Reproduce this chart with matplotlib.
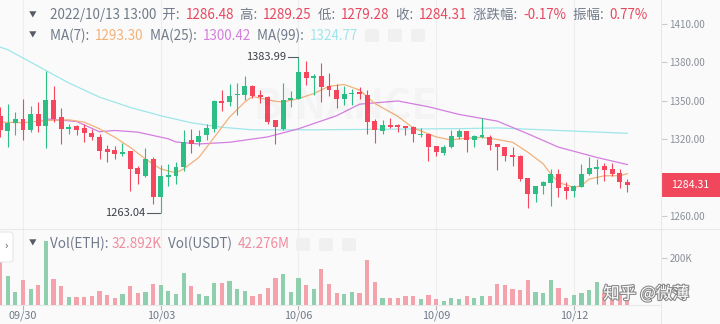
import matplotlib
matplotlib.use("Agg")
import matplotlib.pyplot as plt
import matplotlib.patheffects as pe
from matplotlib.patches import Rectangle, FancyBboxPatch

plt.rcParams['font.family'] = ['Noto Sans CJK SC', 'DejaVu Sans']

# 4h candles, index 2 = 09/30 00:00
candle_idx = list(range(-1, 82))
opens = [1338.0, 1326.5, 1333.0, 1335.6, 1327.0, 1339.5, 1330.4, 1350.5, 1337.4, 1328.3, 1330.1,
         1329.1, 1325.2, 1322.3, 1312.6, 1311.8, 1308.7, 1311.3, 1297.5, 1291.7, 1304.8,
         1275.5, 1290.4, 1291.7, 1298.3, 1319.2, 1317.8, 1323.1, 1328.3, 1350.0, 1349.2,
         1354.9, 1354.4, 1361.7, 1354.4, 1353.1, 1335.3, 1328.3, 1350.5, 1351.8, 1372.7,
         1368.2, 1369.3, 1361.4, 1358.8, 1351.8, 1355.2, 1357.0, 1354.9, 1334.3, 1326.5,
         1330.9, 1331.2, 1330.1, 1329.6, 1323.3, 1324.4, 1315.2, 1309.2, 1314.2, 1322.3,
         1326.5, 1319.2, 1321.8, 1322.3, 1316.5, 1314.4, 1308.2, 1307.4, 1289.9, 1277.4,
         1283.4, 1285.7, 1293.0, 1282.6, 1279.5, 1283.1, 1293.0, 1297.0, 1299.3, 1297.0,
         1293.8, 1286.48]
highs = [1345.0, 1347.9, 1341.3, 1351.8, 1345.8, 1349.2, 1373.4, 1361.4, 1344.5, 1332.2, 1330.9,
         1332.2, 1328.3, 1324.4, 1316.0, 1315.2, 1317.1, 1311.3, 1299.6, 1313.1, 1306.6,
         1300.3, 1300.9, 1302.2, 1327.0, 1328.3, 1327.0, 1332.2, 1350.5, 1358.8, 1363.5,
         1364.0, 1369.3, 1362.7, 1358.3, 1353.6, 1335.3, 1364.3, 1357.5, 1383.99, 1381.3,
         1371.4, 1379.7, 1371.9, 1363.5, 1361.7, 1359.4, 1360.7, 1358.3, 1336.1, 1335.3,
         1336.9, 1332.2, 1330.1, 1330.1, 1329.1, 1324.9, 1315.2, 1316.0, 1327.5, 1328.3,
         1326.5, 1323.1, 1336.9, 1323.1, 1316.5, 1314.4, 1313.9, 1308.2, 1289.9, 1283.9,
         1287.8, 1297.0, 1297.0, 1286.5, 1284.7, 1300.9, 1306.1, 1304.8, 1301.4, 1301.4,
         1297.0, 1289.25]
lows = [1322.0, 1314.4, 1323.6, 1319.7, 1325.7, 1325.7, 1313.4, 1333.5, 1316.5, 1324.4, 1323.1,
        1317.8, 1319.2, 1304.8, 1302.2, 1304.8, 1307.4, 1280.0, 1285.2, 1290.4, 1269.5,
        1263.04, 1283.9, 1285.2, 1295.1, 1309.2, 1315.2, 1319.2, 1325.7, 1341.9, 1346.0,
        1338.7, 1350.5, 1352.6, 1348.4, 1332.2, 1316.5, 1327.0, 1345.3, 1351.8, 1362.2,
        1354.4, 1349.2, 1353.6, 1344.7, 1346.6, 1346.6, 1351.8, 1324.1, 1317.1, 1323.9,
        1328.8, 1325.7, 1323.1, 1317.8, 1321.8, 1303.5, 1307.4, 1308.2, 1313.4, 1320.4,
        1310.0, 1314.4, 1321.2, 1311.8, 1296.2, 1302.9, 1299.6, 1287.8, 1266.4, 1271.6,
        1277.4, 1268.2, 1275.3, 1273.4, 1274.8, 1282.6, 1292.5, 1285.2, 1287.8, 1291.7,
        1282.1, 1279.28]
closes = [1327.0, 1333.0, 1335.6, 1327.0, 1339.5, 1330.4, 1351.0, 1336.1, 1327.8, 1329.6, 1327.5,
          1324.9, 1321.8, 1311.3, 1310.5, 1308.7, 1310.5, 1297.0, 1293.0, 1304.8, 1275.5,
          1291.7, 1292.0, 1298.8, 1318.4, 1316.5, 1322.5, 1328.8, 1350.0, 1348.7, 1353.6,
          1355.7, 1361.4, 1353.6, 1353.1, 1333.5, 1329.6, 1350.5, 1352.3, 1372.7, 1368.2,
          1369.3, 1360.9, 1358.8, 1351.8, 1355.2, 1356.2, 1355.2, 1333.5, 1327.0, 1330.9,
          1329.6, 1329.9, 1329.1, 1323.9, 1324.4, 1314.4, 1310.0, 1314.4, 1322.8, 1326.5,
          1319.2, 1322.5, 1323.1, 1316.0, 1314.4, 1307.4, 1306.6, 1289.1, 1277.4, 1283.4,
          1286.5, 1293.0, 1281.8, 1280.0, 1283.4, 1293.0, 1297.5, 1298.8, 1296.2, 1293.0,
          1286.5, 1284.31]
# volume in thousands of ETH
volumes = [206, 125, 57, 106, 68, 85, 272, 109, 81, 33, 35, 35, 38, 61, 43, 31, 47, 82, 50, 54,
           88, 85, 61, 47, 138, 82, 47, 38, 92, 92, 104, 67, 60, 40, 47, 74, 113, 130, 57, 113,
           85, 67, 152, 88, 50, 47, 54, 50, 191, 99, 31, 28, 28, 40, 40, 26, 43, 26, 17, 31, 26,
           40, 31, 40, 40, 88, 85, 67, 64, 106, 54, 50, 106, 74, 31, 43, 50, 64, 96, 50, 35, 50, 33]

# moving averages (candle index, price)
ma7_idx = [-1, 2, 5, 8, 10, 12, 14, 16, 18, 20, 22, 23, 25, 27, 29, 31, 32, 35, 36, 38, 40, 42,
           44, 46, 48, 51, 53, 56, 58, 59, 62, 64, 66, 68, 70, 71, 72, 74, 75, 76, 78, 80, 81]
ma7 = [1333.5, 1333.0, 1334.8, 1335.3, 1333.5, 1328.3, 1321.7, 1313.9, 1304.8, 1297.0, 1294.0,
       1297.0, 1306.0, 1321.7, 1337.4, 1349.2, 1353.5, 1349.7, 1349.2, 1351.8, 1355.7, 1361.5,
       1362.8, 1358.5, 1348.0, 1338.0, 1329.0, 1322.0, 1319.5, 1320.5, 1321.7, 1320.0, 1317.8,
       1310.0, 1301.0, 1293.0, 1286.5, 1282.6, 1283.9, 1289.1, 1291.7, 1291.7, 1293.3]
ma25_idx = [5, 9, 12, 14, 17, 21, 22, 25, 29, 34, 38, 43, 46, 51, 55, 59, 64, 68, 72, 77, 81]
ma25 = [1336.0, 1334.0, 1326.0, 1327.0, 1325.7, 1320.5, 1318.0, 1316.5, 1317.8, 1322.0, 1328.3,
        1338.5, 1347.5, 1350.0, 1345.5, 1339.5, 1334.3, 1324.4, 1314.0, 1306.0, 1300.42]
ma99_idx = [-1, 0, 4, 8, 12, 16, 20, 24, 28, 32, 40, 50, 60, 64, 72, 81]
ma99 = [1392.0, 1390.0, 1377.0, 1364.0, 1353.0, 1345.0, 1338.5, 1333.0, 1329.5, 1327.5, 1327.5,
        1328.0, 1328.5, 1329.0, 1327.0, 1324.77]

date_idx = [2, 20, 38, 56, 74]
date_labels = ['09/30', '10/03', '10/06', '10/09', '10/12']
price_ticks = [1260, 1290, 1320, 1350, 1380, 1410]

GREEN, RED = '#2ebd85', '#f6465d'
VGREEN, VRED = '#8fcfae', '#f4a2ac'
GRAY = '#707a8a'
VALRED = '#e8475f'
BG = '#fafafa'
W, H = 720, 324

fig = plt.figure(figsize=(7.2, 3.24), dpi=100, facecolor=BG)
ax = fig.add_axes([0, 1 - 229 / H, 661 / W, 229 / H], facecolor=BG)
axv = fig.add_axes([0, 1 - 305 / H, 661 / W, 76 / H], facecolor=BG)

# moving average lines
ax.plot(ma99_idx, ma99, color='#9fe6ea', lw=0.9, zorder=2)
ax.plot(ma25_idx, ma25, color='#d47ee0', lw=0.9, zorder=2)
ax.plot(ma7_idx, ma7, color='#f2b27a', lw=0.9, zorder=2)

# candles
for k, o, h, l, c, v in zip(candle_idx, opens, highs, lows, closes, volumes):
    up = c >= o
    col = GREEN if up else RED
    ax.vlines(k, l, h, color=col, lw=0.8, zorder=3)
    ax.bar(k, max(abs(c - o), 0.8), bottom=min(o, c), width=0.65, color=col, zorder=4)
    axv.bar(k, v, width=0.55, color=VGREEN if up else VRED, zorder=3)

ax.set_xlim(-1.007, 85.4)
ax.set_ylim(1250.2, 1428.7)
axv.set_xlim(-1.007, 85.4)
axv.set_ylim(0, 323)

for a in (ax, axv):
    for s in ('top', 'left', 'right'):
        a.spines[s].set_visible(False)
    a.yaxis.tick_right()
    a.tick_params(axis='y', length=4, width=0.8, color='#c8cbd0', labelcolor='#8a9099',
                  labelsize=7, pad=2)
    a.set_xticks(date_idx)
    a.grid(axis='x', color='#eeeeee', lw=0.8, zorder=0)
ax.spines['bottom'].set_visible(False)
ax.tick_params(axis='x', length=0, labelbottom=False)
ax.set_yticks(price_ticks)
# the 1290 label sits under the last-price tag
ax.set_yticklabels(['' if p == 1290 else '%.2f' % p for p in price_ticks])
axv.spines['bottom'].set_color('#e8e8e8')
axv.set_yticks([200])
axv.set_yticklabels(['200K'])
axv.set_xticklabels(date_labels)
axv.tick_params(axis='x', length=3.5, width=0.8, color='#b0b4ba', labelcolor='#707a8a',
                labelsize=7.8, pad=0.5)

# high / low markers
ax.plot([36.7, 37.9], [1383.99, 1383.99], color='#555c66', lw=0.8, zorder=5)
ax.text(36.45, 1383.99, '1383.99', ha='right', va='center', fontsize=8, color='#3c4148')
ax.plot([18.2, 19.85], [1263.04, 1263.04], color='#555c66', lw=0.8, zorder=5)
ax.text(17.95, 1263.04, '1263.04', ha='right', va='center', fontsize=8, color='#3c4148')

# overlay in pixel coordinates for legends and decorations
ov = fig.add_axes([0, 0, 1, 1], facecolor='none')
ov.set_xlim(0, W)
ov.set_ylim(H, 0)
ov.axis('off')

ov.plot([661, 661], [0, 324], color='#e9e9e9', lw=0.8)
ov.plot([0, 720], [229, 229], color='#e9e9e9', lw=0.8)

ov.text(345, 108, 'BINANCE', fontsize=30, fontweight='bold', color='#000000', alpha=0.022,
        ha='center', va='center')


def row(x, y, parts, size=9.7):
    t = ov.text(x, y, parts[0][0], color=parts[0][1], fontsize=size, va='center')
    for s, c in parts[1:]:
        t = ov.annotate(s, xy=(1, 0), xycoords=t, va='bottom', ha='left',
                        color=c, fontsize=size)


for yy in (15, 36, 244):
    ov.text(33, yy, '▼', fontsize=5.5, color='#555c66', ha='center', va='center')

row(50, 15, [('2022/10/13 13:00  开:  ', GRAY), ('1286.48', VALRED), ('  高:  ', GRAY),
             ('1289.25', VALRED), ('  低:  ', GRAY), ('1279.28', VALRED), ('  收:  ', GRAY),
             ('1284.31', VALRED), ('  涨跌幅:  ', GRAY), ('-0.17%', VALRED), ('  振幅:  ', GRAY),
             ('0.77%', VALRED)])
row(50, 36, [('MA(7):  ', GRAY), ('1293.30', '#f2b27a'), ('  MA(25):  ', GRAY),
             ('1300.42', '#d47ee0'), ('  MA(99):  ', GRAY), ('1324.77', '#9fe6ea')])
row(50, 244, [('Vol(ETH): ', GRAY), ('32.892K', '#f08ca0'), ('  Vol(USDT)  ', GRAY),
              ('42.276M', '#f08ca0')])

for x0 in (365, 388, 411):
    ov.add_patch(FancyBboxPatch((x0, 29), 14, 13, boxstyle='round,pad=0,rounding_size=2',
                                fc='#f0f0f0', ec='none'))
for x0 in (296, 319, 342):
    ov.add_patch(FancyBboxPatch((x0, 238), 14, 13, boxstyle='round,pad=0,rounding_size=2',
                                fc='#f0f0f0', ec='none'))

# side toggle button
ov.add_patch(FancyBboxPatch((-3, 232), 16, 30, boxstyle='round,pad=0,rounding_size=3',
                            fc='white', ec='#e6e6e6', lw=0.8))
ov.text(6, 246, '›', fontsize=8, color='#555c66', ha='center', va='center')

# last price tag
ov.add_patch(Rectangle((661, 173), 59, 24, fc='#f0475c', ec='none'))
ov.text(690.5, 185, '1284.31', color='white', fontsize=7.6, ha='center', va='center')

# zhihu watermark
ov.text(646, 294, '知乎 @微薄', fontsize=12, color='white', ha='center', va='center',
        path_effects=[pe.withStroke(linewidth=1.6, foreground='#8a8a8a')])

fig.savefig('out.png', dpi=100, facecolor=BG)
